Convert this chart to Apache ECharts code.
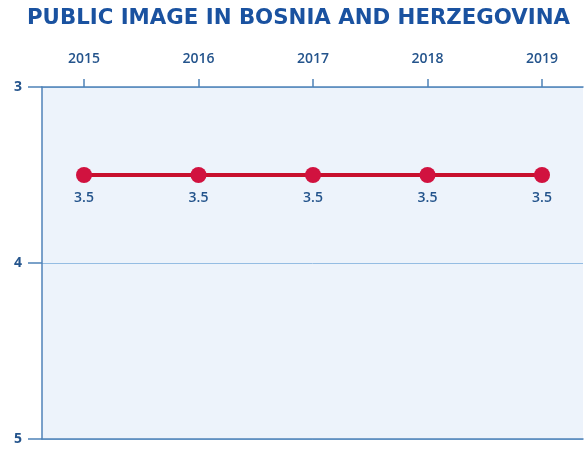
<!DOCTYPE html>
<html><head><meta charset="utf-8">
<script src="https://cdn.jsdelivr.net/npm/echarts@6/dist/echarts.min.js"></script>
<style>html,body{margin:0;padding:0;background:#fff}#c{width:584px;height:452px}</style>
</head><body><div id="c"></div>
<script>
const years = [2015, 2016, 2017, 2018, 2019];
const values = [3.5, 3.5, 3.5, 3.5, 3.5];
const yTicks = [3, 4, 5];

const axisColor = '#4f82b8';
const textColor = '#24548c';
const chart = echarts.init(document.getElementById('c'));
chart.setOption({
  animation: false,
  title: {
    text: 'PUBLIC IMAGE IN BOSNIA AND HERZEGOVINA',
    left: 22, top: 3,
    textStyle: { fontFamily: 'DejaVu Sans', fontWeight: 'bold', fontSize: 21.3, color: '#1a52a0' }
  },
  grid: { left: 42, right: 1, top: 87, bottom: 13, show: true, backgroundColor: '#edf3fb', borderWidth: 0 },
  xAxis: [{
    type: 'value', position: 'top', min: 2014.633, max: 2019.358,
    axisLine: { show: true, lineStyle: { color: axisColor, width: 1.5 } },
    axisTick: { show: true, length: 8, lineStyle: { color: axisColor, width: 1.5 }, customValues: years },
    axisLabel: { customValues: years, color: textColor, fontFamily: 'Open Sans', fontWeight: 600, fontSize: 14, margin: 21, formatter: v => String(Math.round(v)) },
    splitLine: { show: false }
  }, {
    type: 'value', position: 'bottom', min: 2014.633, max: 2019.358,
    axisLine: { show: true, lineStyle: { color: axisColor, width: 1.5 } },
    axisTick: { show: false }, axisLabel: { show: false }, splitLine: { show: false }
  }],
  yAxis: {
    type: 'value', inverse: true, min: 3, max: 5, interval: 1,
    axisLine: { show: true, lineStyle: { color: axisColor, width: 1.5 } },
    axisTick: { show: true, length: 14, lineStyle: { color: axisColor, width: 1.5 } },
    axisLabel: { color: textColor, fontFamily: 'Open Sans', fontWeight: 700, fontSize: 14, margin: 20,
      customValues: yTicks },
    splitLine: { show: true, lineStyle: { color: '#95bde3', width: 1 } }
  },
  series: [{
    type: 'line',
    data: years.map((y, i) => [y, values[i]]),
    symbol: 'circle', symbolSize: 16,
    lineStyle: { color: '#c8102e', width: 4 },
    itemStyle: { color: '#d1123f' },
    label: { show: true, position: 'bottom', distance: 8, color: textColor, fontFamily: 'Open Sans', fontWeight: 600, fontSize: 14,
      formatter: p => String(p.value[1]) }
  }]
});
</script></body></html>
